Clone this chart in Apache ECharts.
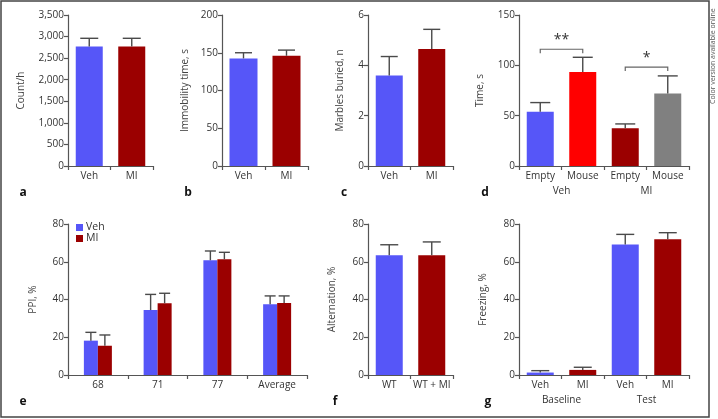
<!DOCTYPE html>
<html>
<head>
<meta charset="utf-8">
<script src="https://cdn.jsdelivr.net/npm/echarts@6/dist/echarts.min.js"></script>
<style>
  html, body { margin: 0; padding: 0; background: #fff; }
  #chart { width: 718px; height: 419px; }
</style>
</head>
<body>
<div id="chart"></div>
<script>
// colours
const blue = '#5656f8';
const darkRed = '#9b0000';
const red = '#ff0000';
const gray = '#808080';
const axisColor = '#555';
const errColor = '#4a4a4a';

// a - locomotion
const aCats = ['Veh', 'MI'];
const aMean = [2770, 2770];
const aSem = [190, 190];
// b - forced swim
const bCats = ['Veh', 'MI'];
const bMean = [142.5, 146];
const bSem = [7.5, 7.5];
// c - marble burying
const cCats = ['Veh', 'MI'];
const cMean = [3.6, 4.65];
const cSem = [0.75, 0.78];
// d - social preference
const dCats = ['Empty', 'Mouse', 'Empty', 'Mouse'];
const dGroups = ['Veh', 'MI'];
const dMean = [54, 93.5, 37.5, 72];
const dSem = [9, 14.5, 4.3, 17.5];
const dSig = [[0, 1, 116, '**'], [2, 3, 98.3, '*']];
// e - PPI
const eCats = ['68', '71', '77', 'Average'];
const eVehMean = [18.2, 34.4, 60.8, 37.5];
const eVehSem = [4.4, 8.3, 4.9, 4.4];
const eMiMean = [15.5, 38, 61.3, 38.1];
const eMiSem = [5.7, 5.3, 3.7, 3.8];
// f - alternation
const fCats = ['WT', 'WT + MI'];
const fMean = [63.5, 63.5];
const fSem = [5.5, 7];
// g - freezing
const gCats = ['Veh', 'MI', 'Veh', 'MI'];
const gGroups = ['Baseline', 'Test'];
const gMean = [1.3, 2.7, 69.2, 71.9];
const gSem = [1, 1.4, 5.3, 3.5];

const font = 'Open Sans';
const fs = 10;
const grids = [], xAxes = [], yAxes = [], series = [];

function addPanel(box, cats, yName, nameGap, yMax, yStep, groups, fmt) {
  const gi = grids.length;
  grids.push(box);
  const xi = xAxes.length;
  xAxes.push({
    type: 'category', gridIndex: gi, data: cats,
    axisLine: { lineStyle: { color: axisColor, width: 1.2 } },
    axisTick: { show: true, length: 4, interval: 0, lineStyle: { color: axisColor, width: 1.2 } },
    axisLabel: { color: '#333', fontSize: fs, fontFamily: font, margin: 5, interval: 0 },
    splitLine: { show: false }
  });
  if (groups) {
    xAxes.push({
      type: 'category', gridIndex: gi, data: groups, position: 'bottom', offset: 15,
      axisLine: { show: false }, axisTick: { show: false },
      axisLabel: { color: '#333', fontSize: fs, fontFamily: font, margin: 5, interval: 0 },
      splitLine: { show: false }
    });
  }
  yAxes.push({
    type: 'value', gridIndex: gi, min: 0, max: yMax, interval: yStep,
    name: yName, nameLocation: 'middle', nameGap: nameGap,
    nameTextStyle: { color: '#444', fontSize: fs, fontFamily: font },
    axisLine: { show: true, lineStyle: { color: axisColor, width: 1.2 } },
    axisTick: { show: true, length: 4, lineStyle: { color: axisColor, width: 1.2 } },
    axisLabel: { color: '#333', fontSize: fs, fontFamily: font, margin: 4, formatter: fmt },
    splitLine: { show: false }
  });
  return { xi: xi, yi: gi };
}

function barSeries(p, name, means, colors, width, extra) {
  return Object.assign({
    type: 'bar', name: name, xAxisIndex: p.xi, yAxisIndex: p.yi,
    barWidth: width, silent: true,
    data: means.map((v, i) => ({ value: v, itemStyle: { color: Array.isArray(colors) ? colors[i] : colors } }))
  }, extra || {});
}

function errSeries(p, means, sems, offset, cap) {
  return {
    type: 'custom', xAxisIndex: p.xi, yAxisIndex: p.yi, silent: true, z: 5,
    data: means.map((m, i) => [i, m, m + sems[i]]),
    renderItem: function (params, api) {
      const b = api.coord([api.value(0), api.value(1)]);
      const t = api.coord([api.value(0), api.value(2)]);
      const x = b[0] + offset;
      const st = { stroke: errColor, lineWidth: 1.4 };
      return {
        type: 'group', children: [
          { type: 'line', shape: { x1: x, y1: b[1], x2: x, y2: t[1] }, style: st },
          { type: 'line', shape: { x1: x - cap / 2, y1: t[1], x2: x + cap / 2, y2: t[1] }, style: st }
        ]
      };
    }
  };
}

function sigSeries(p, sig) {
  return {
    type: 'custom', xAxisIndex: p.xi, yAxisIndex: p.yi, silent: true, z: 5,
    data: sig.map(s => [s[0], s[1], s[2], s[3]]),
    renderItem: function (params, api) {
      const l = api.coord([api.value(0), api.value(2)]);
      const r = api.coord([api.value(1), api.value(2)]);
      const st = { stroke: '#666', lineWidth: 1.2 };
      return {
        type: 'group', children: [
          { type: 'polyline', shape: { points: [[l[0], l[1] + 4], [l[0], l[1]], [r[0], r[1]], [r[0], r[1] + 4]] }, style: Object.assign({ fill: null }, st) },
          { type: 'text', style: { x: (l[0] + r[0]) / 2, y: l[1] - 2, text: sig[params.dataIndex][3], textAlign: 'center', textVerticalAlign: 'bottom', fontSize: 14, fontFamily: font, fill: '#333' } }
        ]
      };
    }
  };
}

const thousands = v => v.toLocaleString('en-US');

// top row
const pa = addPanel({ left: 68, top: 15, width: 85, height: 151 }, aCats, 'Count/h', 42, 3500, 500, null, thousands);
const pb = addPanel({ left: 222, top: 15, width: 86, height: 151 }, bCats, 'Immobility time, s', 32, 200, 50);
const pc = addPanel({ left: 368, top: 15, width: 85, height: 151 }, cCats, 'Marbles buried, n', 23, 6, 2);
const pd = addPanel({ left: 519, top: 15, width: 170, height: 151 }, dCats, 'Time, s', 34, 150, 50, dGroups);
// bottom row
const pe = addPanel({ left: 68, top: 224, width: 239, height: 151 }, eCats, 'PPI, %', 30, 80, 20);
const pf = addPanel({ left: 368, top: 224, width: 85, height: 151 }, fCats, 'Alternation, %', 31, 80, 20);
const pg = addPanel({ left: 519, top: 224, width: 170, height: 151 }, gCats, 'Freezing, %', 31, 80, 20, gGroups);

series.push(barSeries(pa, 'a', aMean, [blue, darkRed], 27), errSeries(pa, aMean, aSem, 0, 18));
series.push(barSeries(pb, 'b', bMean, [blue, darkRed], 28), errSeries(pb, bMean, bSem, 0, 17));
series.push(barSeries(pc, 'c', cMean, [blue, darkRed], 27), errSeries(pc, cMean, cSem, 0, 17));
series.push(barSeries(pd, 'd', dMean, [blue, red, darkRed, gray], 27), errSeries(pd, dMean, dSem, 0, 20), sigSeries(pd, dSig));
series.push(
  barSeries(pe, 'Veh', eVehMean, blue, 14, { barGap: '0%', itemStyle: { color: blue } }),
  barSeries(pe, 'MI', eMiMean, darkRed, 14, { barGap: '0%', itemStyle: { color: darkRed } }),
  errSeries(pe, eVehMean, eVehSem, -7, 11),
  errSeries(pe, eMiMean, eMiSem, 7, 11)
);
series.push(barSeries(pf, 'f', fMean, [blue, darkRed], 27), errSeries(pf, fMean, fSem, 0, 18));
series.push(barSeries(pg, 'g', gMean, [blue, darkRed, blue, darkRed], 27), errSeries(pg, gMean, gSem, 0, 18));

const letters = [['a', 23, 193], ['b', 188, 193], ['c', 344, 193], ['d', 485, 193],
                 ['e', 23, 402], ['f', 335, 402], ['g', 488, 402]];

const chart = echarts.init(document.getElementById('chart'), null, { renderer: 'canvas' });
chart.setOption({
  backgroundColor: '#fff',
  animation: false,
  textStyle: { fontFamily: font },
  grid: grids,
  xAxis: xAxes,
  yAxis: yAxes,
  legend: {
    data: [{ name: 'Veh', icon: 'rect' }, { name: 'MI', icon: 'rect' }],
    orient: 'vertical', left: 76, top: 222, padding: 0,
    itemWidth: 7, itemHeight: 7, itemGap: 0, selectedMode: false,
    textStyle: { fontSize: 10.5, color: '#333', fontFamily: font, lineHeight: 11, padding: [0, 0, 0, -2] }
  },
  series: series,
  graphic: [
    { type: 'rect', shape: { x: 1, y: 1, width: 708, height: 416 }, style: { fill: null, stroke: '#444', lineWidth: 1.5 }, silent: true },
    { type: 'text', x: 713, y: 104, rotation: Math.PI / 2, style: { text: 'Color version available online', fontSize: 7, fontFamily: font, fill: '#555', textAlign: 'left', textVerticalAlign: 'middle' } }
  ].concat(letters.map(l => ({
    type: 'text', x: l[1], y: l[2],
    style: { text: l[0], fontSize: 12, fontWeight: 'bold', fontFamily: font, fill: '#111', textAlign: 'center', textVerticalAlign: 'middle' }
  })))
});
</script>
</body>
</html>
